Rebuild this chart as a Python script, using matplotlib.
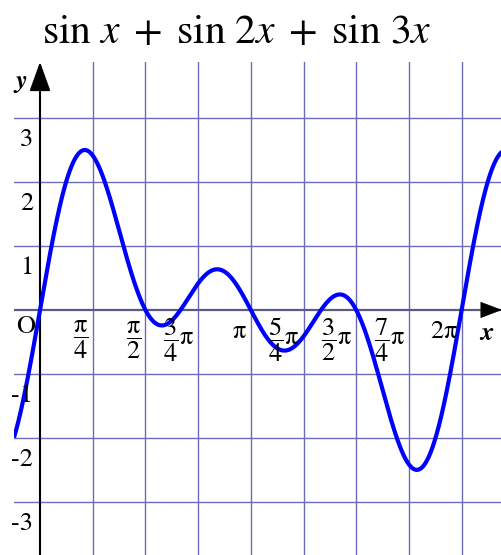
import numpy as np
import matplotlib.pyplot as plt
from matplotlib.transforms import offset_copy

plt.rcParams['mathtext.fontset'] = 'stix'
plt.rcParams['font.family'] = ['STIXGeneral', 'DejaVu Serif']

# f(x) = sum of sin(k x) for these harmonics
harmonics = [1, 2, 3]
x_range = (-0.3875, 6.885)
y_range = (-3.83, 3.875)

y_ticks = [-3, -2, -1, 1, 2, 3]
y_tick_labels = ['-3', '-2', '-1', '1', '2', '3']
x_ticks = [np.pi / 4 * k for k in range(1, 9)]
PI = r'\mathrm{\pi}'
x_tick_labels = [r'$\dfrac{%s}{4}$' % PI, r'$\dfrac{%s}{2}$' % PI, r'$\dfrac{3}{4}%s$' % PI,
                 r'$%s$' % PI, r'$\dfrac{5}{4}%s$' % PI, r'$\dfrac{3}{2}%s$' % PI,
                 r'$\dfrac{7}{4}%s$' % PI, r'$2%s$' % PI]

grid_col = '#6b6bb3'

fig = plt.figure(figsize=(5.02, 5.55), dpi=100)
ax = fig.add_axes([14 / 502, 0, 488 / 502, 493 / 555])
ax.set_xlim(*x_range)
ax.set_ylim(*y_range)
ax.axis('off')

# grid
for xv in x_ticks:
    ax.axvline(xv, color=grid_col, lw=1.0, zorder=1)
for yv in y_ticks:
    ax.axhline(yv, color=grid_col, lw=1.0, zorder=1)
ax.axhline(0, color='#5a5a88', lw=1.6, zorder=1)

# axes with arrow heads
ax.annotate('', xy=(0, y_range[1]), xytext=(0, y_range[0]),
            arrowprops=dict(arrowstyle='-|>,head_length=1.8,head_width=0.65',
                            color='k', lw=1.5, shrinkA=0, shrinkB=0),
            annotation_clip=False, zorder=3)
ax.annotate('', xy=(x_range[1], 0), xytext=(x_range[1] - 0.3, 0),
            arrowprops=dict(arrowstyle='-|>,head_length=1.45,head_width=0.55',
                            color='k', lw=0.5, shrinkA=0, shrinkB=0),
            annotation_clip=False, zorder=3)

# the curve
x = np.linspace(x_range[0], x_range[1], 1500)
y = sum(np.sin(k * x) for k in harmonics)
ax.plot(x, y, color='#0000ff', lw=3.0, zorder=4, solid_capstyle='butt')

# tick labels
shift = offset_copy(ax.transData, fig=fig, x=-3, y=0, units='points')
for xv, lab in zip(x_ticks, x_tick_labels):
    yy = -0.34 if 'frac' not in lab else -0.47
    ax.text(xv, yy, lab, transform=shift, ha='right', va='center', fontsize=19, zorder=5)
for yv, lab in zip(y_ticks, y_tick_labels):
    ax.text(-0.195 if yv > 0 else -0.27, yv - 0.34, lab, ha='center', va='center',
            fontsize=19, zorder=5)
ax.text(-0.22, -0.27, 'O', ha='center', va='center', fontsize=19, zorder=5)
ax.text(6.66, -0.36, 'x', ha='center', va='center', fontsize=19,
        style='italic', weight='bold', zorder=5)
ax.text(-0.28, 3.57, 'y', ha='center', va='center', fontsize=19,
        style='italic', weight='bold', zorder=5)

fig.text(237 / 502, 1 - 33 / 555, r'$\sin\,x\;+\;\sin\,2x\;+\;\sin\,3x$',
         ha='center', va='center', fontsize=30)

fig.savefig('out.png', dpi=100)
